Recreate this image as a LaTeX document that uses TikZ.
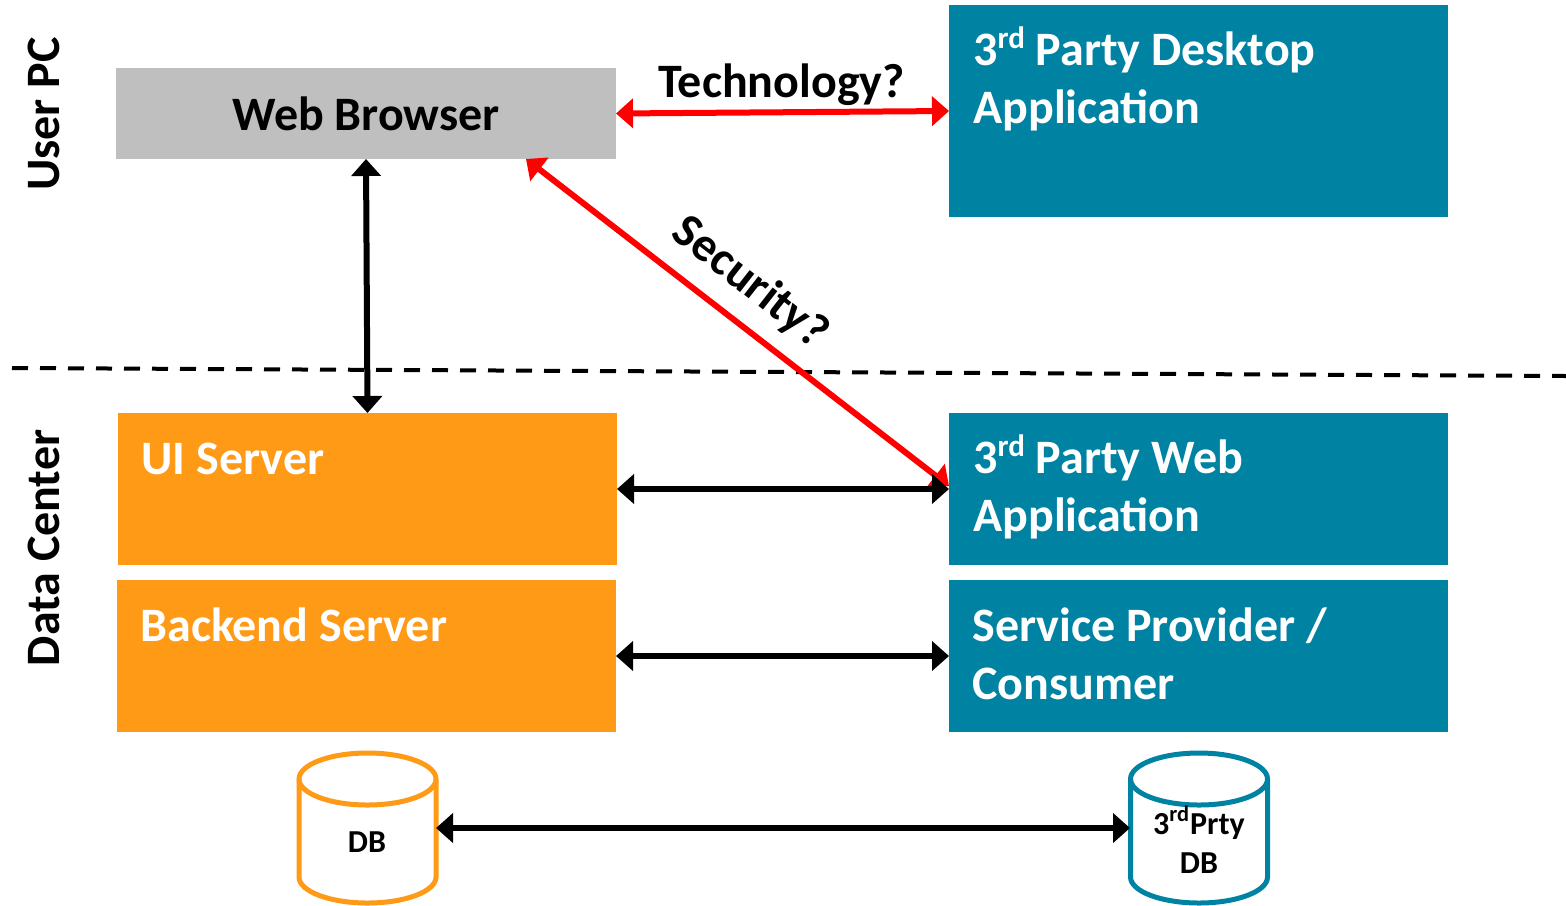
\documentclass[tikz,border=0pt]{standalone}
\usepackage{fontspec}
\setmainfont{Carlito}
\usetikzlibrary{arrows.meta,calc}
\definecolor{teal1}{HTML}{0083A3}
\definecolor{orange1}{HTML}{FF9A17}
\definecolor{grey1}{HTML}{BFBFBF}
\definecolor{red1}{HTML}{FF0000}
\newcommand{\supr}[1]{\raisebox{0.36em}{\fontsize{15.5}{15.5}\selectfont #1}}
\tikzset{x=0.5pt,y=-0.5pt,
 boxs/.style={draw=none,inner sep=0,outer sep=0,anchor=north west},
 ttl/.style={font=\bfseries\fontsize{24}{29}\selectfont,text=white,anchor=north west,inner sep=0,align=left},
 side/.style={font=\bfseries\fontsize{24}{26}\selectfont,rotate=90,inner sep=0},
 lbl/.style={font=\bfseries\fontsize{24}{26}\selectfont,inner sep=0},
 blk/.style={line width=3pt,black,{Triangle[length=8.5pt,width=14.5pt]}-{Triangle[length=8.5pt,width=14.5pt]}},
 redl/.style={line width=3pt,red1,{Triangle[length=8.5pt,width=14.5pt]}-{Triangle[length=8.5pt,width=14.5pt]}},
 dbl/.style={line width=2.5pt,fill=white},
 dbt/.style={font=\bfseries\fontsize{16}{19.5}\selectfont,align=center,inner sep=0},
}
\newcommand{\rbox}[6]{\node[boxs,fill=#2,minimum width=#5*0.5pt,minimum height=#6*0.5pt] (#1) at (#3,#4) {};}
\newcommand{\cyl}[6]{% name colour cx top bottom rx
 \coordinate (#1) at (#3,#4);
 \draw[dbl,draw=#2] (#3-#6,#4+26) arc[x radius=#6*0.5pt,y radius=26*0.5pt,start angle=180,end angle=0] -- (#3+#6,#5-26) arc[x radius=#6*0.5pt,y radius=26*0.5pt,start angle=0,end angle=-180] -- cycle;
 \draw[line width=2.5pt,draw=#2] (#3-#6,#4+26) arc[x radius=#6*0.5pt,y radius=26*0.5pt,start angle=180,end angle=360];
}
\begin{document}
\begin{tikzpicture}
\useasboundingbox (0,0) rectangle (1566,905);
\rbox{web}{grey1}{116}{68}{500}{91}
\rbox{desk}{teal1}{949}{5}{499}{212}
\rbox{ui}{orange1}{118}{413}{499}{152}
\rbox{web3}{teal1}{949}{413}{499}{152}
\rbox{back}{orange1}{117}{580}{499}{152}
\rbox{svc}{teal1}{949}{580}{499}{152}
\node[lbl] (webt) at (366,114) {Web Browser};
\node[ttl] (desktxt) at (973,26.5) {3\supr{rd} Party Desktop\\Application};
\node[ttl] (uit) at (141,443) {UI Server};
\node[ttl] (web3t) at (973,434.5) {3\supr{rd} Party Web\\Application};
\node[ttl] (backt) at (140,607) {Backend Server};
\node[ttl] (svct) at (972,607) {Service Provider /\\Consumer};
\node[side] (upc) at (44,114) {User PC};
\node[side] (dc) at (44,548) {Data Center};
\coordinate (dl) at (12,368);
\coordinate (dr) at (1566,376);
\draw[line width=2pt,dash pattern=on 8pt off 6pt] (dl) -- (dr);
\draw[redl] (web.east) -- (desk.west |- 0,111);
\coordinate (wb) at (526,159);
\draw[redl] (wb) -- (949,486);
\draw[blk] (web.south) -- (ui.north);
\draw[blk] (ui.east) -- (web3.west);
\draw[blk] (back.east) -- (svc.west);
\cyl{db}{orange1}{367.5}{753}{903}{68.5}
\cyl{dbb}{teal1}{1199}{753}{903}{68.5}
\node[dbt] (dbt1) at (367,842.5) {DB};
\node[dbt] (dbt2) at (1199,839.5) {3\textsuperscript{rd}Prty\\DB};
\coordinate (da) at (436,828);
\coordinate (db2) at (1130,828);
\draw[blk] (da) -- (db2);
\node[lbl] (tech) at (781.5,85) {Technology?};
\node[lbl,rotate=-38] (sec) at (750,283) {Security?};
\end{tikzpicture}
\end{document}
